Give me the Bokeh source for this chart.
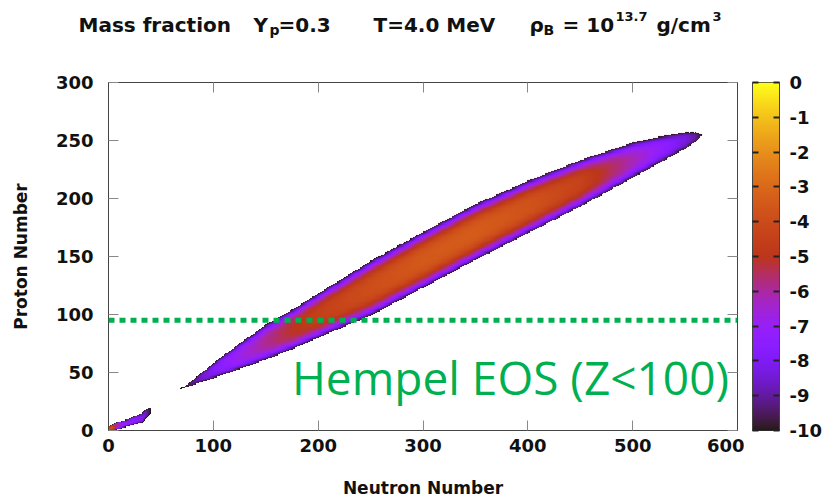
import numpy as np
from bokeh.plotting import figure
from bokeh.models import LinearColorMapper, Range1d, LinearAxis, FixedTicker, Span, Label
from bokeh.layouts import row, column
from bokeh.embed import file_html
from bokeh.resources import INLINE
from bokeh.core.properties import value

# ---------------- data ----------------
x_ticks = [0, 100, 200, 300, 400, 500, 600]
y_ticks = [0, 50, 100, 150, 200, 250, 300]
cb_ticks = [0, -1, -2, -3, -4, -5, -6, -7, -8, -9, -10]

# main band of heavy nuclei: lower / upper edge of the log10(X) >= -10 region and
# the value on the ridge, sampled along the neutron number
ridge_N    = [69, 80, 100, 125, 150, 175, 200, 250, 300, 350, 400, 450, 500, 530, 550, 560, 566]
ridge_Zlo  = [36, 39, 45, 53, 61, 70, 80, 99, 123, 147, 170, 193, 218, 233, 243, 249, 254]
ridge_Zhi  = [36, 43, 58, 75, 91, 104, 118, 146, 171, 195, 215, 233, 248, 254, 257, 257, 255]
ridge_peak = [-10, -9.2, -7.8, -6.8, -5.9, -5.1, -4.5, -3.9, -3.5, -3.4, -3.7, -4.4, -6.2, -7.4, -8.3, -9.0, -10]

# light nuclei near the origin
frag_N    = [0, 4, 8, 12, 16, 20, 24, 28, 32, 34, 36, 38, 40]
frag_Zlo  = [0, 0, 1, 2, 3, 4, 5, 6, 7, 9, 11, 13, 15]
frag_Zhi  = [3, 5, 7, 8, 9, 10, 12, 13, 15, 17, 18, 19, 19]
frag_peak = [-3.2, -4.0, -5.5, -6.8, -7.3, -7.4, -7.5, -7.7, -8.0, -8.4, -8.8, -9.4, -10]

z_cut = 95
cut_label = "Hempel EOS (Z<100)"
cb_low, cb_high = -10, 0

# ---------------- palette (gnuplot rgbformulae 7,5,15, slightly washed) ----------------
xs = np.linspace(0, 1, 256)
r = np.sqrt(xs)
g = xs ** 3
b = np.clip(np.sin(2 * np.pi * xs), 0, 1)


def wash(c):
    return int(round(255 * (0.9 * c + 0.1)))


palette = ["#%02x%02x%02x" % (wash(a), wash(c), wash(d)) for a, c, d in zip(r, g, b)]
mapper = LinearColorMapper(palette=palette, low=cb_low, high=cb_high, nan_color=(0, 0, 0, 0))

# ---------------- build the (N, Z) field ----------------
field = np.full((301, 601), np.nan)


def paint(Ns, lo, hi, peak):
    for n in range(int(np.ceil(Ns[0])), int(np.floor(Ns[-1])) + 1):
        l = np.interp(n, Ns, lo)
        h = np.interp(n, Ns, hi)
        pk = np.interp(n, Ns, peak)
        c = (l + h) / 2.0
        hw = max((h - l) / 2.0, 0.6)
        zs = np.arange(max(0, int(np.floor(c - hw))), min(300, int(np.ceil(c + hw))) + 1)
        u = np.abs(zs - c) / hw
        v = pk - (pk + 10) * u ** 3
        ok = u <= 1
        cur = field[zs[ok], n]
        field[zs[ok], n] = np.fmax(cur, v[ok])


paint(ridge_N, ridge_Zlo, ridge_Zhi, ridge_peak)
paint(frag_N, frag_Zlo, frag_Zhi, frag_peak)

FONT = "DejaVu Sans"
TICK_PX = "18px"
LABEL_PX = "17px"

# ---------------- main figure ----------------
p = figure(width=744, height=442, x_range=Range1d(0, 600), y_range=Range1d(0, 300),
           output_backend="svg", toolbar_location=None,
           min_border_left=108, min_border_right=7, min_border_top=24, min_border_bottom=66)
p.grid.visible = False
p.outline_line_color = "#444444"
p.background_fill_color = "white"
p.border_fill_color = "white"

p.image(image=[field], x=-0.5, y=-0.5, dw=601, dh=301, color_mapper=mapper)


def style_axis(ax, ticks, labels=True):
    ax.ticker = FixedTicker(ticks=ticks)
    ax.major_tick_in = 10
    ax.major_tick_out = 0
    ax.minor_tick_line_color = None
    ax.major_tick_line_color = "#888888"
    ax.axis_line_color = "#444444"
    if labels:
        ax.major_label_text_font = FONT
        ax.major_label_text_font_style = "bold"
        ax.major_label_text_font_size = TICK_PX
        ax.major_label_text_color = "#111111"
        ax.major_label_overrides = {t: str(t) for t in ticks}
    else:
        ax.major_label_overrides = {t: "" for t in ticks}
        ax.major_label_standoff = 0


style_axis(p.xaxis[0], x_ticks)
style_axis(p.yaxis[0], y_ticks)
p.xaxis.major_label_standoff = 8
p.yaxis.major_label_standoff = 15
p.xaxis.axis_label = "Neutron Number"
p.yaxis.axis_label = "Proton Number"
for ax in (p.xaxis[0], p.yaxis[0]):
    ax.axis_label_text_font = FONT
    ax.axis_label_text_font_style = "bold"
    ax.axis_label_text_font_size = LABEL_PX
    ax.axis_label_text_color = "#111111"
p.xaxis.axis_label_standoff = 23
p.yaxis.axis_label_standoff = 22

top_ax = LinearAxis()
style_axis(top_ax, x_ticks, labels=False)
p.add_layout(top_ax, "above")
right_ax = LinearAxis()
style_axis(right_ax, y_ticks, labels=False)
p.add_layout(right_ax, "right")

p.add_layout(Span(location=z_cut, dimension="width", line_color="#00B050",
                  line_width=5, line_dash="6 5"))
p.add_layout(Label(x=175, y=46, text=cut_label, text_font="Open Sans", text_font_size="46px",
                   text_color="#00B050", text_baseline="alphabetic"))

# ---------------- colour bar figure ----------------
cb = figure(width=81, height=442, x_range=Range1d(0, 1), y_range=Range1d(cb_low, cb_high),
            output_backend="svg", toolbar_location=None, x_axis_location=None,
            min_border_left=8, min_border_right=42, min_border_top=24, min_border_bottom=66)
cb.grid.visible = False
cb.outline_line_color = "#333333"
grad = np.linspace(cb_low, cb_high, 256).reshape(256, 1)
cb.image(image=[grad], x=0, y=cb_low, dw=1, dh=cb_high - cb_low, color_mapper=mapper)
style_axis(cb.yaxis[0], cb_ticks, labels=False)
cb.yaxis[0].major_tick_in = 6
cb.yaxis[0].major_tick_line_color = "#222222"
cb.yaxis[0].major_tick_line_width = 2
cb_right = LinearAxis()
style_axis(cb_right, cb_ticks)
cb_right.major_tick_in = 6
cb_right.major_tick_line_color = "#222222"
cb_right.major_tick_line_width = 2
cb_right.major_label_standoff = 10
cb.add_layout(cb_right, "right")

# ---------------- title strip ----------------
tf = figure(width=825, height=58, x_range=Range1d(0, 825), y_range=Range1d(58, 0),
            output_backend="svg", toolbar_location=None, x_axis_location=None,
            y_axis_location=None, min_border=0)
tf.grid.visible = False
tf.outline_line_color = None

main_txt = ["Mass fraction", "Y", "=0.3", "T=4.0 MeV", "\u03c1", "= 10", "g/cm"]
main_x = [78, 253, 278, 373, 529, 562, 656]
sub_txt = ["p", "B"]
sub_x = [269, 543]
sup_txt = ["13.7", "3"]
sup_x = [615, 712]
base = 24
tf.text(x=main_x, y=[base] * len(main_x), text=main_txt, text_font=value(FONT),
        text_font_style="bold", text_font_size=value("20px"), text_color="#111111",
        text_baseline="alphabetic")
tf.text(x=sub_x, y=[base + 5] * len(sub_x), text=sub_txt, text_font=value(FONT),
        text_font_style="bold", text_font_size=value("14px"), text_color="#111111",
        text_baseline="alphabetic")
tf.text(x=sup_x, y=[base - 8] * len(sup_x), text=sup_txt, text_font=value(FONT),
        text_font_style="bold", text_font_size=value("13px"), text_color="#111111",
        text_baseline="alphabetic")

layout = column(tf, row(p, cb))
open("out.html", "w").write(file_html(layout, INLINE))
